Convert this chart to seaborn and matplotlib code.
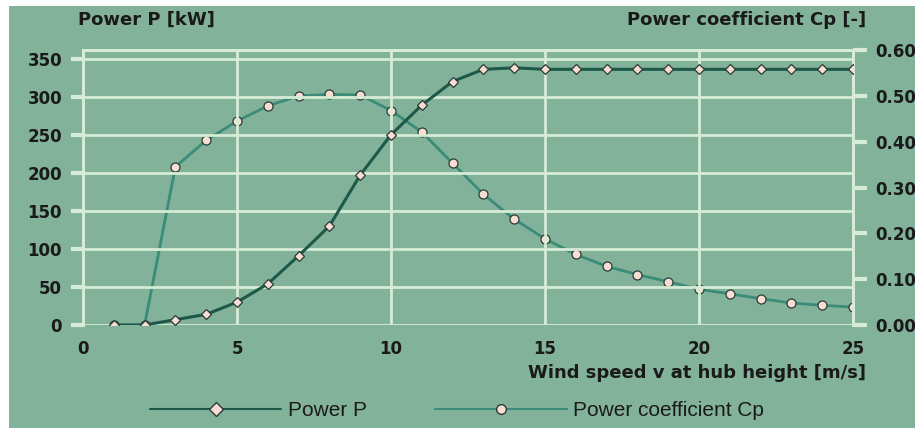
import matplotlib
matplotlib.use("Agg")
import matplotlib.pyplot as plt
import seaborn as sns
import pandas as pd
from matplotlib.patches import Rectangle
from matplotlib.lines import Line2D

wind_speed = list(range(1, 26))
power_kw = [0, 0, 7, 14, 30, 54, 91, 130, 197, 250, 289, 320, 336, 338,
            336, 336, 336, 336, 336, 336, 336, 336, 336, 336, 336]
cp = [0.0, 0.0, 0.345, 0.403, 0.445, 0.478, 0.500, 0.503, 0.502, 0.468,
      0.421, 0.353, 0.285, 0.231, 0.188, 0.154, 0.128, 0.110, 0.0945,
      0.078, 0.068, 0.0575, 0.048, 0.043, 0.039]
left_ticks = [0, 50, 100, 150, 200, 250, 300, 350]
right_ticks = [0.0, 0.1, 0.2, 0.3, 0.4, 0.5, 0.6]
x_ticks = [0, 5, 10, 15, 20, 25]

df = pd.DataFrame({"v": wind_speed, "P": power_kw, "Cp": cp})

sns.set_theme(style="white")
plt.rcParams['font.family'] = ['Liberation Sans', 'DejaVu Sans']

BG = "#82b39a"
GRID = "#d6ecd6"
DARK = "#1d5848"
MID = "#3a8b78"
MFACE = "#f7ddd3"
MEDGE = "#2a3a34"
TXT = "#1a1a1a"
TICKF = dict(family="DejaVu Sans", weight="bold", size=12)
TITLEF = dict(family="DejaVu Sans", weight="bold", size=13)

fig = plt.figure(figsize=(9.15, 4.28), dpi=100)
fig.patch.set_facecolor("white")
fig.patches.append(Rectangle((9 / 915, 0), 1 - 9 / 915, 1 - 6 / 428,
                             transform=fig.transFigure, facecolor=BG,
                             edgecolor="none", zorder=0))

ax = fig.add_axes([83 / 915, 1 - 325 / 428, (853 - 83) / 915, (325 - 50) / 428])
ax2 = ax.twinx()

sns.lineplot(data=df, x="v", y="Cp", ax=ax2, color=MID, linewidth=2,
             marker="o", markersize=6.5, markerfacecolor=MFACE,
             markeredgecolor=MEDGE, markeredgewidth=0.9, zorder=3)
sns.lineplot(data=df, x="v", y="P", ax=ax, color=DARK, linewidth=2.2,
             marker="D", markersize=5.5, markerfacecolor=MFACE,
             markeredgecolor=MEDGE, markeredgewidth=0.9, zorder=3)

ax2.set_zorder(1)
ax.set_zorder(2)
ax.patch.set_visible(False)
ax2.patch.set_visible(True)
ax2.patch.set_facecolor(BG)

ax.set_xlim(0, 25)
ax.set_ylim(0, 350 + (58.7 - 50) / 0.763)
ax2.set_ylim(0, 0.6)

ax.set_xticks(x_ticks)
ax.set_yticks(left_ticks)
ax2.set_yticks(right_ticks)
ax.set_xticklabels([str(t) for t in x_ticks], fontdict=TICKF)
ax.set_yticklabels([str(t) for t in left_ticks], fontdict=TICKF)
ax2.set_yticklabels([f"{t:.2f}" for t in right_ticks], fontdict=TICKF)

ax.grid(True, color=GRID, linewidth=2)
ax2.grid(False)
ax.set_axisbelow(True)

for a in (ax, ax2):
    for s in a.spines.values():
        s.set_color(GRID)
        s.set_linewidth(2)
    a.spines["bottom"].set_visible(False)
    a.set_xlabel("")
    a.set_ylabel("")

ax.tick_params(axis="both", colors=GRID, length=9, width=3, direction="out",
               labelcolor=TXT, pad=6)
ax.tick_params(axis="x", length=7, pad=4)
ax2.tick_params(axis="y", colors=GRID, length=10, width=3, direction="out",
                labelcolor=TXT, pad=6)

fig.text(78 / 915, 1 - 20 / 428, "Power P [kW]", color=TXT, ha="left",
         va="center", fontdict=TITLEF)
fig.text(866 / 915, 1 - 20 / 428, "Power coefficient Cp [-]", color=TXT,
         ha="right", va="center", fontdict=TITLEF)
fig.text(866 / 915, 1 - 373 / 428, "Wind speed v at hub height [m/s]",
         color=TXT, ha="right", va="center", fontdict=TITLEF)

h1 = Line2D([], [], color=DARK, linewidth=1.5, marker="D", markersize=7,
            markerfacecolor=MFACE, markeredgecolor=MEDGE)
h2 = Line2D([], [], color=MID, linewidth=1.5, marker="o", markersize=7,
            markerfacecolor=MFACE, markeredgecolor=MEDGE)
fig.legend([h1, h2], ["Power P", "Power coefficient Cp"], loc="center",
           bbox_to_anchor=(457 / 915, 1 - 411 / 428), ncol=2, frameon=False,
           fontsize=15, handlelength=6.3, columnspacing=3.3, handletextpad=0.3,
           labelcolor=TXT)

fig.savefig("out.png", dpi=100, facecolor=fig.get_facecolor())
